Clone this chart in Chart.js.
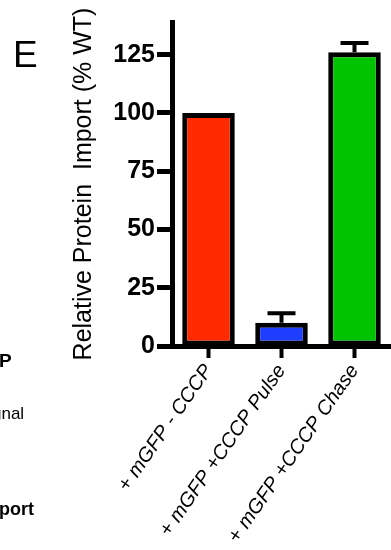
<!DOCTYPE html>
<html>
<head>
<meta charset="utf-8">
<script src="https://cdn.jsdelivr.net/npm/chart.js@4.4.0/dist/chart.umd.min.js"></script>
<style>
  html, body { margin: 0; padding: 0; background: #fff; overflow: hidden; }
  #wrap { position: absolute; left: 0; top: 0; width: 391px; height: 550px; }
</style>
</head>
<body>
<div id="wrap"><canvas id="c" width="391" height="550"></canvas></div>
<script>
const categories = ['+ mGFP - CCCP', '+ mGFP +CCCP Pulse', '+ mGFP +CCCP Chase'];
const importValues = [100, 10, 126];
const importErrors = [0, 4, 4];
const barColors = ['#ff2a00', '#1f3dff', '#00c300'];
const yTicks = [0, 25, 50, 75, 100, 125];
const yTitle = 'Relative Protein  Import (% WT)';
const panelLabel = 'E';

const FONT = '"Liberation Sans", Arial, Helvetica, sans-serif';

const errorBars = {
  id: 'errorBars',
  afterDatasetsDraw(chart) {
    const ctx = chart.ctx;
    const meta = chart.getDatasetMeta(0);
    const y = chart.scales.y;
    ctx.save();
    ctx.strokeStyle = '#000';
    ctx.lineWidth = 4;
    meta.data.forEach((bar, i) => {
      const err = importErrors[i];
      if (!err) return;
      const top = y.getPixelForValue(importValues[i] + err);
      const base = y.getPixelForValue(importValues[i]);
      ctx.beginPath();
      ctx.moveTo(bar.x, base);
      ctx.lineTo(bar.x, top);
      ctx.moveTo(bar.x - 14, top);
      ctx.lineTo(bar.x + 14, top);
      ctx.stroke();
    });
    ctx.restore();
  }
};

const sideTexts = {
  id: 'sideTexts',
  afterDraw(chart) {
    const ctx = chart.ctx;
    ctx.save();
    ctx.fillStyle = '#000';
    ctx.textBaseline = 'alphabetic';
    ctx.textAlign = 'left';
    ctx.font = '37px ' + FONT;
    ctx.fillText(panelLabel, 13, 67);
    ctx.font = 'bold 19px ' + FONT;
    ctx.fillText('P', -1, 367);
    ctx.font = '17px ' + FONT;
    ctx.fillText('gnal', -8, 419);
    ctx.font = 'bold 18px ' + FONT;
    ctx.fillText('port', -1, 515);
    ctx.restore();
  }
};

new Chart(document.getElementById('c'), {
  type: 'bar',
  data: {
    labels: categories,
    datasets: [{
      data: importValues,
      backgroundColor: barColors,
      borderColor: '#000',
      borderWidth: 5,
      borderSkipped: false,
      categoryPercentage: 1,
      barPercentage: 0.72
    }]
  },
  options: {
    responsive: false,
    animation: false,
    devicePixelRatio: 1,
    layout: { padding: { top: 22, left: 0, right: 0, bottom: 0 } },
    plugins: { legend: { display: false }, tooltip: { enabled: false } },
    scales: {
      x: {
        grid: { display: true, drawOnChartArea: false, drawTicks: true, offset: false, tickLength: 12, tickWidth: 4, tickColor: '#000' },
        border: { display: true, color: '#000', width: 5 },
        ticks: {
          color: '#000',
          font: { family: FONT, size: 20, style: 'italic' },
          minRotation: 55, maxRotation: 55,
          padding: 2,
          autoSkip: false
        },
        afterFit(scale) { scale.height = 204; }
      },
      y: {
        min: 0,
        max: 139,
        afterBuildTicks(scale) { scale.ticks = yTicks.map(v => ({ value: v })); },
        grid: { display: true, drawOnChartArea: false, drawTicks: true, tickLength: 15, tickWidth: 5, tickColor: '#000' },
        border: { display: true, color: '#000', width: 5 },
        ticks: {
          color: '#000',
          font: { family: FONT, size: 25, weight: 'bold' },
          padding: 2
        },
        title: {
          display: true,
          text: yTitle,
          color: '#000',
          font: { family: FONT, size: 25 },
          padding: { top: 69, bottom: 0 }
        },
        afterFit(scale) { scale.width = 172; }
      }
    }
  },
  plugins: [errorBars, sideTexts]
});
</script>
</body>
</html>
